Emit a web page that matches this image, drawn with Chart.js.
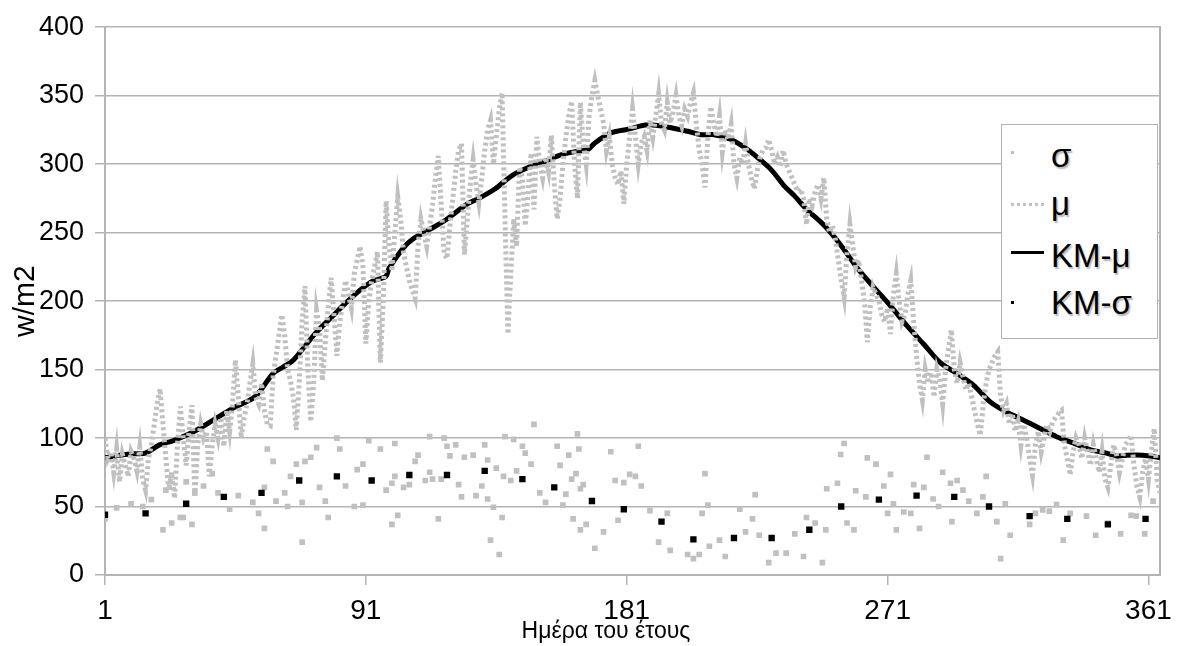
<!DOCTYPE html>
<html>
<head>
<meta charset="utf-8">
<script src="https://cdn.jsdelivr.net/npm/chart.js@4.4.0/dist/chart.umd.min.js"></script>
<style>
  body { margin: 0; background: #fff; overflow: hidden; }
  #wrap { position: relative; width: 1181px; height: 646px; }
  #c { position: absolute; left: 0; top: 0; }
  .lbl { position: absolute; font-family: "Liberation Sans", Arial, sans-serif; color: #000; white-space: nowrap; }
  .leg { font-size: 33px; line-height: 33px; left: 1051px; text-shadow: 1.5px 1.5px 1.5px rgba(0,0,0,0.3); }
  .sym { position: absolute; }
</style>
</head>
<body>
<div id="wrap">
  <canvas id="c" width="1181" height="646"></canvas>
  <div class="lbl" style="left:506px; width:200px; top:619px; font-size:23px; line-height:23px; text-align:center;">Ημέρα του έτους</div>
  <div style="position:absolute; left:1001px; top:124px; width:155px; height:213px; border:1px solid #b3b3b3; background:#fff;"></div>
  <div class="sym" style="left:1011px; top:151px; width:3px; height:3px; background:#c0c0c0;"></div>
  <div class="lbl leg" style="top:139px;">σ</div>
  <div class="sym" style="left:1011px; top:203px; width:33px; height:3px; background:repeating-linear-gradient(90deg,#c0c0c0 0 3px,transparent 3px 6px);"></div>
  <div class="lbl leg" style="top:187px;">μ</div>
  <div class="sym" style="left:1011px; top:251px; width:33px; height:3px; background:#000;"></div>
  <div class="lbl leg" style="top:239px;">KM-μ</div>
  <div class="sym" style="left:1011px; top:301px; width:3px; height:3px; background:#000;"></div>
  <div class="lbl leg" style="top:286px;">KM-σ</div>
</div>
<script>
// daily mean, days 1..365
const muVals = [
  100, 85, 90, 75, 92, 68, 88, 80, 72, 90,
  85, 76, 93, 70, 62, 85, 95, 110, 125, 136,
  110, 85, 62, 75, 56, 95, 123, 100, 80, 105,
  124, 58, 95, 110, 100, 105, 72, 95, 110, 100,
  115, 94, 120, 105, 125, 157, 130, 100, 115, 125,
  140, 154, 130, 125, 140, 120, 110, 109, 145, 160,
  175, 190, 175, 150, 142, 130, 106, 140, 185, 211,
  150, 112, 140, 193, 180, 142, 170, 195, 217, 190,
  160, 185, 200, 215, 205, 195, 220, 230, 240, 225,
  169, 200, 215, 225, 236, 155, 200, 273, 240, 222,
  250, 276, 260, 235, 225, 215, 208, 202, 240, 260,
  250, 240, 255, 270, 290, 306, 270, 235, 231, 255,
  275, 295, 310, 315, 234, 260, 285, 303, 285, 272,
  290, 310, 325, 332, 300, 320, 340, 352, 260, 176,
  220, 260, 240, 298, 290, 255, 280, 308, 267, 320,
  300, 290, 305, 295, 321, 285, 260, 275, 300, 320,
  335, 346, 300, 275, 345, 315, 300, 335, 350, 361,
  350, 340, 330, 310, 320, 300, 290, 285, 295, 271,
  300, 320, 340, 320, 300, 315, 320, 310, 332, 320,
  335, 351, 330, 325, 345, 330, 338, 350, 335, 328,
  340, 335, 345, 352, 330, 310, 300, 283, 320, 342,
  330, 320, 335, 309, 325, 318, 329, 300, 290, 305,
  300, 315, 300, 290, 282, 295, 305, 310, 312, 318,
  310, 300, 305, 298, 310, 300, 295, 290, 285, 280,
  282, 275, 256, 275, 270, 280, 285, 275, 290, 260,
  250, 255, 245, 230, 215, 203, 235, 256, 240, 225,
  230, 215, 200, 170, 195, 210, 205, 200, 190, 185,
  195, 176, 205, 220, 200, 185, 190, 205, 215, 185,
  160, 140, 128, 150, 140, 148, 130, 150, 142, 125,
  150, 165, 179, 150, 140, 155, 145, 135, 140, 130,
  120, 110, 102, 125, 140, 150, 155, 160, 163, 130,
  120, 125, 110, 118, 105, 112, 95, 110, 100, 85,
  73, 95, 105, 90, 100, 110, 105, 112, 115, 118,
  120, 95, 85, 73, 90, 100, 95, 85, 100, 90,
  80, 95, 85, 75, 90, 70, 64, 80, 95, 88,
  75, 85, 95, 98, 102, 80, 65, 57, 75, 85,
  70, 90, 107, 70, 60
];

// moving average of mu [day, value]
const kmMuPts = [
  [1,85.6],[6,87.5],[10.6,88.5],[15,89],[19.8,95],[24.4,98],[29,102],[33.6,107],[39.3,114.4],
  [45,121.6],[52,129],[54.3,133.7],[58.9,147],[62.3,151.7],[65.8,156.5],[69.2,165],[73.8,177],
  [79.5,189],[84,198.5],[88.7,207.5],[93.3,214.6],[97.9,218],[99,224],[104,239],[107,245],
  [112.7,252],[118.4,259],[126,271],[130,275],[135.6,282],[141.3,291.5],[147,297.5],[152.8,302],
  [158.5,307],[164.3,309.5],[167.7,310.7],[170,315.5],[175.7,323],[181.4,325.5],[188.3,328.7],
  [195.2,327],[202,324],[206.6,321.5],[211.2,321.5],[217,318],[222.7,310.7],[226.2,304.7],
  [230.8,296],[235.4,284],[238.8,277],[242.8,267.5],[249,255.5],[254.8,241],[260.6,224],
  [266.3,210],[272,196.5],[277.8,181.7],[283.5,168.5],[289.2,155],[295,147],[300.7,138.5],
  [306.4,126.4],[312,119],[317.9,113],[323.6,107],[329.3,101],[335,96.4],[340.8,91.6],
  [346.5,89],[350,86.8],[353.4,87.5],[359,87.5],[365,85.6]
];

// sigma marks [day, value]
const sigmaPts = [
  [1,41],[5,49],[10,52],[14,50],[17,55],[21,33],[22,62],[24,38],[27,42],[28,42],[29,68],[31,37],
  [32,60],[35,65],[38,74],[40,60],[44,48],[47,58],[52,53],[54,45],[56,34],[56,64],[57,92],[59,83],
  [60,54],[63,60],[64,50],[65,72],[67,81],[69,53],[69,24],[70,83],[72,86],[74,93],[75,64],[77,54],
  [78,42],[81,100],[82,92],[84,65],[87,50],[88,77],[90,81],[90,51],[92,98],[96,92],[98,62],[100,37],
  [101,72],[101,96],[102,43.5],[100,67],[104,64],[106,66],[108,83],[109,87.5],[113,75],[113,101],
  [111.5,69],[114,70],[116,41],[117,70],[118,100],[119,94],[120,87],[122,95],[123,66],[124,57],
  [125,86],[128,87.5],[129,58],[131,65],[132,95],[133,84],[133,55.5],[134,25.5],[135,49.5],[136,78],
  [137,15],[138,42],[138.5,72],[139,101],[141,69],[142,99],[143,76],[145,94],[146,89],[148,81],
  [149,110],[151,60],[153,53],[157,94],[158,80],[159,51],[160,59],[161,87.5],[162,70],[162.5,41],
  [163.5,74],[164,103],[164.5,92],[165,63],[165,33],[166,66],[167,37],[170,19.5],[173,31.5],
  [175.5,90],[177,69],[178,40],[180,67.5],[182,73.5],[184,72],[185,94],[186,65],[189,47],[192,24],
  [195,45],[196,18],[202,15],[204,12],[206,15],[207,45],[209,51],[208,74],[209.5,21],[213,25.5],
  [215,13.5],[220,48],[222,31.5],[224.4,41],[225.3,58.7],[226.7,29],[230,9],[232.5,16],[236,16],
  [239,30],[242,13.5],[243,42],[246,38],[248.5,9],[249.7,33],[250,63],[253.7,67],[254.8,88],[256,96],
  [257,38],[259.4,33],[260,61.5],[263.5,57],[264,85.5],[267,81],[269.7,65],[271,45],[272,73.5],
  [273,52],[274,33],[276.6,46],[279,45],[280,66],[282,34],[283.5,64],[284.6,86],[286.7,55.5],
  [288.6,50],[290,75],[292.7,67],[293.2,39],[295,69],[297,62],[299,54],[301.8,45],[303.9,57],
  [305,72],[308.7,39],[310,12],[311.6,52],[313.3,29],[320,37],[322,45],[324.5,47.6],[326.8,46.6],
  [329.3,51.4],[331.6,25.5],[334,45],[339.6,43],[342.8,29],[347,38],[351.4,30],[355,43.5],
  [356.8,43],[359.7,30],[362.6,54]
];

// moving average of sigma [day, value]
const kmSigmaPts = [
  [1,44],[15,45],[29,52],[42,57],[55,60],[68,69],[81,72],[93,69],[106,73],[119,73],[132,76],
  [145,70],[156,64],[169,54],[180,48],[193,39],[204,26],[218,27],[231,27],[244,33],[255,50],
  [268,55],[281,58],[294,57],[306,50],[320,43],[333,41],[347,37],[360,41]
];

const xTicks = [1, 91, 181, 271, 361];
const yTicks = [0, 50, 100, 150, 200, 250, 300, 350, 400];

const gridColor = '#b4b4b4';
const lightGray = '#c0c0c0';
const FONT = '"Liberation Sans", Arial, sans-serif';
Chart.defaults.font.family = FONT;

const toXY = arr => arr.map(p => ({ x: p[0], y: p[1] }));

new Chart(document.getElementById('c'), {
  type: 'line',
  data: {
    datasets: [
      {
        label: 'σ', data: toXY(sigmaPts), showLine: false,
        pointStyle: 'rect', pointRadius: 4, pointBackgroundColor: lightGray,
        pointBorderWidth: 0, order: 4
      },
      {
        label: 'μ', data: muVals.map((v, i) => ({ x: i + 1, y: v })),
        borderColor: lightGray, borderWidth: 5, borderDash: [3, 3],
        pointRadius: 0, tension: 0, order: 1
      },
      {
        label: 'KM-μ', data: toXY(kmMuPts),
        borderColor: '#000', borderWidth: 5, pointRadius: 0, tension: 0.3, order: 2
      },
      {
        label: 'KM-σ', data: toXY(kmSigmaPts), showLine: false,
        pointStyle: 'rect', pointRadius: 4.5, pointBackgroundColor: '#000',
        pointBorderWidth: 0, order: 0
      }
    ]
  },
  options: {
    responsive: false,
    animation: false,
    devicePixelRatio: 1,
    layout: { padding: { top: 19, right: 17, left: 0, bottom: 0 } },
    plugins: { legend: { display: false }, tooltip: { enabled: false } },
    scales: {
      x: {
        type: 'linear', min: 1, max: 365,
        afterBuildTicks: s => { s.ticks = xTicks.map(v => ({ value: v })); },
        afterFit: s => { s.height = 71; },
        ticks: { font: { size: 28 }, color: '#000', padding: 9, maxRotation: 0, autoSkip: false },
        grid: { drawOnChartArea: false, color: gridColor, lineWidth: 1.5, tickLength: 10 },
        border: { color: gridColor, width: 2 }
      },
      y: {
        min: 0, max: 400,
        afterBuildTicks: s => { s.ticks = yTicks.map(v => ({ value: v })); },
        afterFit: s => { s.width = 105; },
        ticks: { font: { size: 27 }, color: '#000', padding: 11 },
        grid: { color: gridColor, lineWidth: 1.5, tickLength: 10 },
        border: { color: gridColor, width: 2 },
        title: { display: true, text: 'w/m2', font: { size: 30 }, color: '#000', padding: { top: 8, bottom: 0 } }
      },
      yR: {
        position: 'right', min: 0, max: 400,
        ticks: { display: false },
        grid: { display: false },
        border: { color: gridColor, width: 2 },
        afterFit: s => { s.width = 0; }
      }
    }
  }
});
</script>
</body>
</html>
